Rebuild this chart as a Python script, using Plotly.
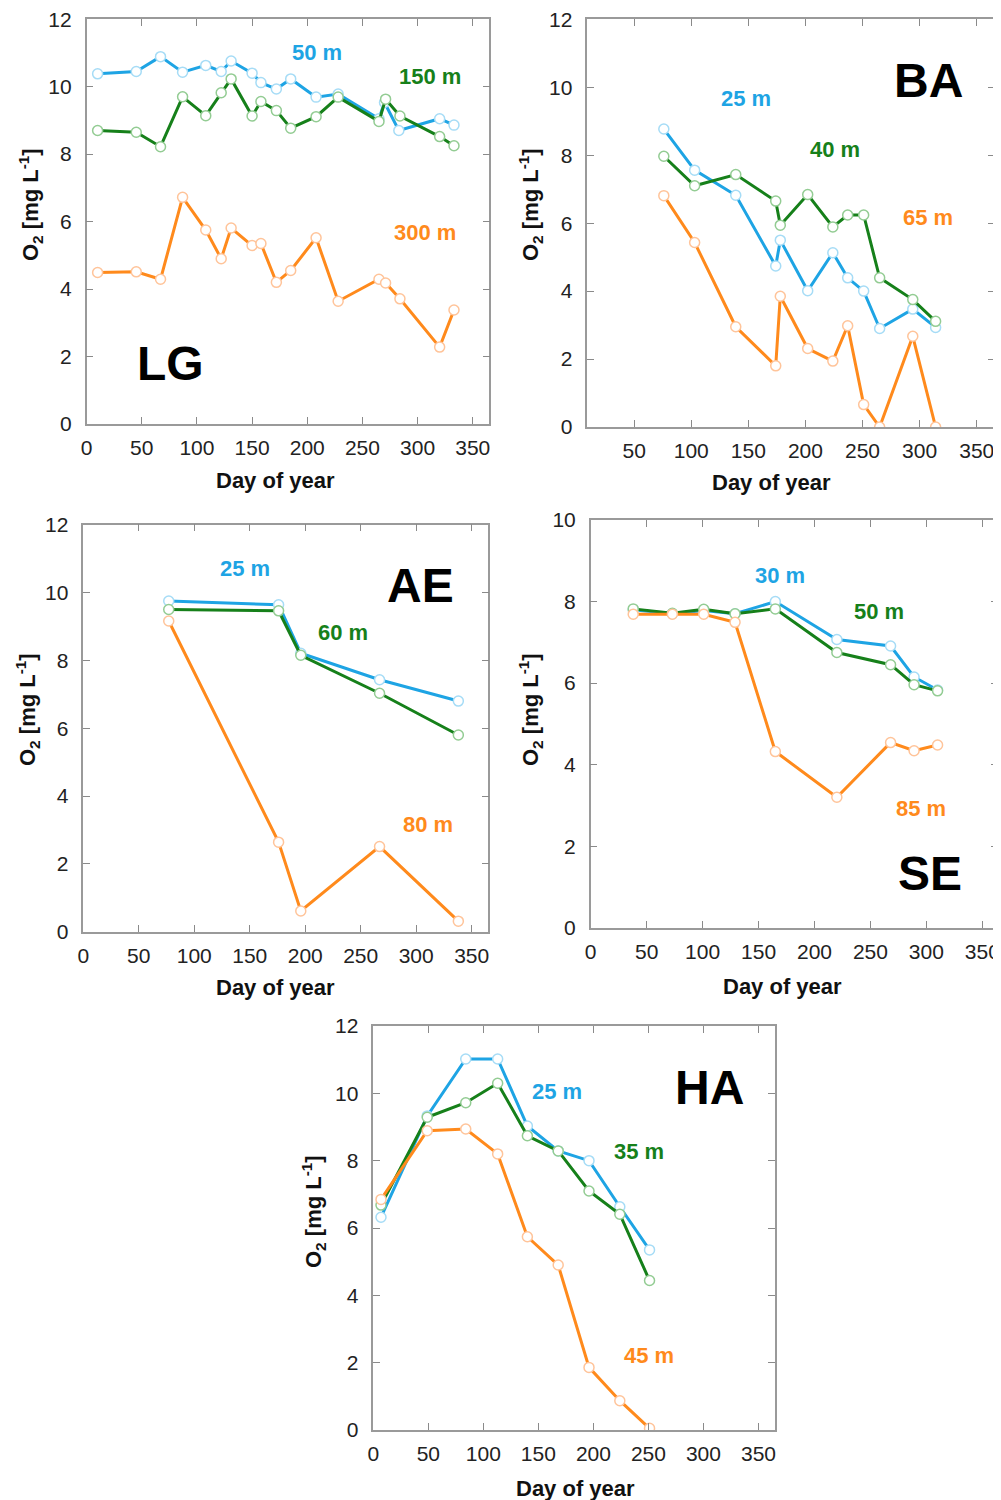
import plotly.graph_objects as go

# ---------------- data ----------------
# LG
lg_day_50 = [10, 45, 67, 87, 108, 122, 131, 150, 158, 172, 185, 208, 228, 265, 270, 283, 320, 333]
lg_o2_50 = [10.38, 10.45, 10.89, 10.43, 10.63, 10.45, 10.76, 10.40, 10.12, 9.93, 10.23, 9.69, 9.78, 9.05, 9.53, 8.70, 9.05, 8.86]
lg_day_150 = [10, 45, 67, 87, 108, 122, 131, 150, 158, 172, 185, 208, 228, 265, 271, 284, 320, 333]
lg_o2_150 = [8.70, 8.65, 8.22, 9.70, 9.14, 9.82, 10.23, 9.13, 9.56, 9.29, 8.77, 9.11, 9.69, 8.97, 9.63, 9.13, 8.52, 8.25]
lg_day_300 = [10, 45, 67, 87, 108, 122, 131, 150, 158, 172, 185, 208, 228, 265, 271, 284, 320, 333]
lg_o2_300 = [4.49, 4.51, 4.29, 6.72, 5.75, 4.90, 5.81, 5.29, 5.35, 4.20, 4.55, 5.52, 3.64, 4.29, 4.18, 3.71, 2.28, 3.38]

# BA
ba_day = [76, 103, 139, 174, 178, 202, 224, 237, 251, 265, 294, 314]
ba_o2_25 = [8.77, 7.56, 6.82, 4.74, 5.50, 4.01, 5.13, 4.39, 4.00, 2.90, 3.47, 2.93]
ba_o2_40 = [7.97, 7.10, 7.43, 6.65, 5.94, 6.84, 5.89, 6.24, 6.24, 4.39, 3.75, 3.11]
ba_o2_65 = [6.81, 5.43, 2.95, 1.80, 3.85, 2.31, 1.94, 2.98, 0.66, 0.00, 2.67, 0.00]

# AE
ae_day = [77, 176, 196, 267, 338]
ae_o2_25 = [9.75, 9.64, 8.21, 7.43, 6.80]
ae_o2_60 = [9.50, 9.46, 8.15, 7.03, 5.80]
ae_o2_80 = [9.16, 2.64, 0.61, 2.51, 0.31]

# SE
se_day = [38, 73, 101, 129, 165, 220, 268, 289, 310]
se_o2_30 = [7.80, 7.70, 7.78, 7.70, 8.00, 7.07, 6.91, 6.15, 5.83]
se_o2_50 = [7.82, 7.71, 7.81, 7.70, 7.82, 6.75, 6.45, 5.96, 5.81]
se_o2_85 = [7.69, 7.69, 7.69, 7.49, 4.32, 3.20, 4.54, 4.34, 4.48]

# HA
ha_day = [7, 49, 84, 113, 140, 168, 196, 224, 251]
ha_o2_25 = [6.32, 9.33, 11.02, 11.02, 9.03, 8.29, 8.00, 6.63, 5.35]
ha_o2_35 = [6.68, 9.29, 9.72, 10.30, 8.74, 8.29, 7.10, 6.41, 4.44]
ha_o2_45 = [6.85, 8.89, 8.94, 8.20, 5.74, 4.90, 1.86, 0.87, 0.05]

x_ticks = [0, 50, 100, 150, 200, 250, 300, 350]

# ---------------- styles ----------------
BLUE, BLUE_L = "#1ea4e4", "#a6dcf6"
GREEN, GREEN_L = "#16801a", "#93cc93"
ORANGE, ORANGE_L = "#ff8a1c", "#ffc49a"
OFF = 8            # page body margin
W, H = 993, 1492   # figure size (fits in the window after the body margin)


def px2x(px):
    return (px - OFF) / W


def py2y(py):
    return 1 - (py - OFF) / H


# panel plot areas in window pixels: (left, right, top, bottom)
panels = {
    "LG": (86.6, 489.3, 19.2, 424.0),
    "BA": (587.3, 995.0, 19.3, 427.0),
    "AE": (83.3, 488.3, 524.7, 931.7),
    "SE": (590.7, 998.0, 520.0, 927.7),
    "HA": (373.3, 775.0, 1026.0, 1430.0),
}
xranges = {"LG": [0, 365], "BA": [9, 366], "AE": [0, 365], "SE": [0, 364], "HA": [0, 365]}
yranges = {"LG": [0, 12], "BA": [0, 12], "AE": [0, 12], "SE": [0, 10], "HA": [0, 12]}

series = {
    "LG": [(lg_day_50, lg_o2_50, BLUE, BLUE_L, "50 m"),
           (lg_day_150, lg_o2_150, GREEN, GREEN_L, "150 m"),
           (lg_day_300, lg_o2_300, ORANGE, ORANGE_L, "300 m")],
    "BA": [(ba_day, ba_o2_25, BLUE, BLUE_L, "25 m"),
           (ba_day, ba_o2_40, GREEN, GREEN_L, "40 m"),
           (ba_day, ba_o2_65, ORANGE, ORANGE_L, "65 m")],
    "AE": [(ae_day, ae_o2_25, BLUE, BLUE_L, "25 m"),
           (ae_day, ae_o2_60, GREEN, GREEN_L, "60 m"),
           (ae_day, ae_o2_80, ORANGE, ORANGE_L, "80 m")],
    "SE": [(se_day, se_o2_30, BLUE, BLUE_L, "30 m"),
           (se_day, se_o2_50, GREEN, GREEN_L, "50 m"),
           (se_day, se_o2_85, ORANGE, ORANGE_L, "85 m")],
    "HA": [(ha_day, ha_o2_25, BLUE, BLUE_L, "25 m"),
           (ha_day, ha_o2_35, GREEN, GREEN_L, "35 m"),
           (ha_day, ha_o2_45, ORANGE, ORANGE_L, "45 m")],
}

# label positions (window pixel centres) per panel: depth labels + site label
labels = {
    "LG": [(317, 52), (430, 77), (425, 233), (170, 363)],
    "BA": [(746, 98), (835, 150), (928, 218), (928, 80)],
    "AE": [(245, 568), (343, 632), (428, 824), (420, 585)],
    "SE": [(780, 575), (879, 611), (921, 808), (930, 873)],
    "HA": [(557, 1091), (639, 1151), (649, 1355), (709, 1087)],
}
xtitle_pos = {"LG": (275, 480), "BA": (771, 482), "AE": (275, 987), "SE": (782, 986), "HA": (575, 1488)}
ytitle_pos = {"LG": (30, 205), "BA": (530, 205), "AE": (27, 710), "SE": (530, 710), "HA": (313, 1212)}

FONT = "Liberation Sans, Arial, sans-serif"
fig = go.Figure()
layout = dict(width=W, height=H, margin=dict(l=0, r=0, t=0, b=0, pad=0, autoexpand=False),
              paper_bgcolor="white", plot_bgcolor="white", showlegend=False,
              font=dict(family=FONT, color="#222222"))
annotations = []

for i, name in enumerate(["LG", "BA", "AE", "SE", "HA"]):
    k = "" if i == 0 else str(i + 1)
    l, r, t, b = panels[name]
    ax_common = dict(showline=True, linecolor="#9a9a9a", linewidth=1.5, mirror="allticks",
                     ticks="inside", ticklen=7, tickcolor="#8a8a8a", tickwidth=1.3,
                     showgrid=False, zeroline=False, automargin=False,
                     ticklabeloverflow="allow",
                     tickfont=dict(size=21, color="#222222"))
    layout["xaxis" + k] = dict(ax_common, domain=[px2x(l), px2x(r)], range=xranges[name],
                               tickmode="array", tickvals=x_ticks, anchor="y" + k,
                               ticklabelstandoff=4)
    yt = list(range(yranges[name][0], yranges[name][1] + 1, 2))
    layout["yaxis" + k] = dict(ax_common, domain=[py2y(b), py2y(t)], range=yranges[name],
                               tickmode="array", tickvals=yt, anchor="x" + k,
                               ticklabelstandoff=9)
    for (xd, yd, c, cl, lab) in series[name]:
        fig.add_trace(go.Scatter(x=xd, y=yd, mode="lines+markers", xaxis="x" + k, yaxis="y" + k,
                                 line=dict(color=c, width=3),
                                 marker=dict(symbol="circle", size=10, color="white",
                                             line=dict(color=cl, width=1.5)),
                                 name=f"{name} {lab}"))
    pos = labels[name]
    for j, (s, c) in enumerate(zip(series[name], [BLUE, GREEN, ORANGE])):
        px, py = pos[j]
        annotations.append(dict(x=px2x(px), y=py2y(py), xref="paper", yref="paper",
                                text=f"<b>{s[4]}</b>", showarrow=False,
                                font=dict(size=22, color=c, family=FONT),
                                xanchor="center", yanchor="middle"))
    px, py = pos[3]
    annotations.append(dict(x=px2x(px), y=py2y(py), xref="paper", yref="paper",
                            text=f"<b>{name}</b>", showarrow=False,
                            font=dict(size=48, color="black", family=FONT),
                            xanchor="center", yanchor="middle"))
    px, py = xtitle_pos[name]
    annotations.append(dict(x=px2x(px), y=py2y(py), xref="paper", yref="paper",
                            text="<b>Day of year</b>", showarrow=False,
                            font=dict(size=22, color="#111111", family=FONT),
                            xanchor="center", yanchor="middle"))
    px, py = ytitle_pos[name]
    annotations.append(dict(x=px2x(px), y=py2y(py), xref="paper", yref="paper",
                            text="<b>O<sub>2</sub> [mg L<sup>-1</sup>]</b>", showarrow=False,
                            textangle=-90,
                            font=dict(size=22, color="#111111", family=FONT),
                            xanchor="center", yanchor="middle"))

layout["annotations"] = annotations
fig.update_layout(**layout)
fig.write_html("out.html")
